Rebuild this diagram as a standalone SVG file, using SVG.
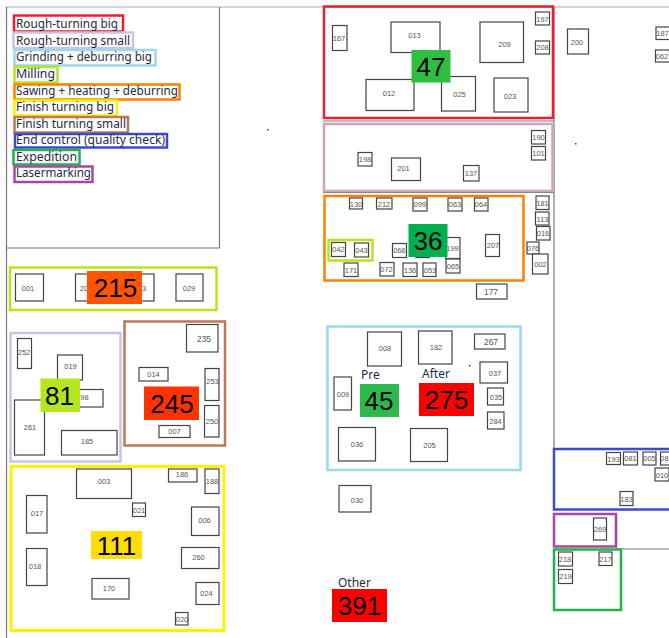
<svg xmlns="http://www.w3.org/2000/svg" width="669" height="638" viewBox="0 0 669 638">
<style>
.bg{fill:#fff}
.ln{stroke:#777;stroke-width:1.2;fill:none}
.lnl{stroke:#aaa;stroke-width:1.2;fill:none}
.z{fill:none;stroke-width:2.5}
.m rect{fill:#fff;stroke:#444;stroke-width:1.2}
.m text{font-family:"Liberation Sans",Arial,sans-serif;font-size:7.5px;fill:#555;text-anchor:middle}
.l{font-family:"Noto Sans","Open Sans",sans-serif;font-size:12px;fill:#1f2a44}
.h{font-family:"Noto Sans","Open Sans",sans-serif;font-size:12px;fill:#1f2a44}
.n{font-family:"Liberation Sans",Arial,sans-serif;font-size:26px;fill:#000;text-anchor:middle}
.red{stroke:#ed1c2e}.lav{stroke:#c8c4e4}.blu{stroke:#99d9ea}.lim{stroke:#b5e61d}.org{stroke:#ff7f00}.yel{stroke:#fff200}.brn{stroke:#b97a57}.ind{stroke:#3f48cc}.grn{stroke:#22b14c}.pur{stroke:#a349a4}.pnk{stroke:#c8a8b8}
</style>
<rect class="bg" width="669" height="638"/>
<g id="connectors">
<path class="lnl" d="M6 7H669"/>
<path class="ln" d="M6.500 7V638"/>
<path class="ln" d="M219.500 7V248H6"/>
<path class="ln" d="M554 7V449"/>
<path class="ln" d="M323 121H554M323 192.500H554"/>
<path class="ln" d="M616 549H669"/>
<rect x="267" y="129" width="1.500" height="1.500" fill="#444"/>
<rect x="575" y="143" width="1.500" height="1.500" fill="#444"/>
<rect x="469" y="365" width="1.500" height="1.500" fill="#444"/>
</g>
<g id="legend">
<rect class="z red" x="14" y="15.500" width="109" height="16"/><text class="l" x="16" y="28" textLength="102" lengthAdjust="spacingAndGlyphs">Rough-turning big</text>
<rect class="z lav" x="13.500" y="32.500" width="119.500" height="15.500"/><text class="l" x="16" y="44.500" textLength="114" lengthAdjust="spacingAndGlyphs">Rough-turning small</text>
<rect class="z blu" x="14.500" y="50" width="141" height="15.500"/><text class="l" x="16" y="61" textLength="136" lengthAdjust="spacingAndGlyphs">Grinding + deburring big</text>
<rect class="z lim" x="14.500" y="67" width="43" height="15.500"/><text class="l" x="16" y="77.500" textLength="39" lengthAdjust="spacingAndGlyphs">Milling</text>
<rect class="z org" x="14.500" y="84.500" width="165" height="15"/><text class="l" x="16" y="94.500" textLength="162" lengthAdjust="spacingAndGlyphs">Sawing + heating + deburring</text>
<rect class="z yel" x="14.500" y="100.500" width="102.500" height="15"/><text class="l" x="16" y="111" textLength="98" lengthAdjust="spacingAndGlyphs">Finish turning big</text>
<rect class="z brn" x="14.500" y="117" width="113.500" height="15.500"/><text class="l" x="16" y="127.500" textLength="110" lengthAdjust="spacingAndGlyphs">Finish turning small</text>
<rect class="z ind" x="15" y="134" width="152" height="13.500"/><text class="l" x="16" y="144" textLength="149" lengthAdjust="spacingAndGlyphs">End control (quality check)</text>
<rect class="z grn" x="13.500" y="150" width="66" height="14.500"/><text class="l" x="16" y="160.500" textLength="61" lengthAdjust="spacingAndGlyphs">Expedition</text>
<rect class="z pur" x="14.500" y="166.500" width="78" height="15.500"/><text class="l" x="16" y="177" textLength="75" lengthAdjust="spacingAndGlyphs">Lasermarking</text>
</g>
<g id="milling" class="m">
<rect style="fill:none;stroke:#b5e61d;stroke-width:2.500" x="10" y="267.500" width="206.500" height="42.500"/>
<g id="m001"><rect x="15.500" y="274" width="28" height="27"/><text x="28" y="291">001</text></g>
<g id="m20"><rect x="75.500" y="274" width="30" height="27"/><text x="84" y="291">20</text></g>
<g id="m3"><rect x="125.500" y="274" width="28.500" height="27"/><text x="144" y="291">3</text></g>
<g id="m029"><rect x="176" y="274" width="27" height="27"/><text x="189" y="291">029</text></g>
</g>
<g id="rough-small" class="m">
<rect style="fill:none;stroke:#c8c4e4;stroke-width:2.500" x="10.500" y="333" width="110" height="128.500"/>
<g id="m252"><rect x="17.500" y="338.500" width="14" height="30"/><text x="24" y="355">252</text></g>
<g id="m019"><rect x="57.500" y="355" width="25" height="25"/><text x="70.500" y="369">019</text></g>
<g id="m98"><rect x="70" y="389.500" width="33" height="17.500"/><text x="84.500" y="400">98</text></g>
<g id="m261"><rect x="14.500" y="400" width="30" height="55"/><text x="30" y="430">261</text></g>
<g id="m185"><rect x="61.500" y="430.500" width="55.500" height="24.500"/><text x="87" y="444">185</text></g>
</g>
<g id="finish-small" class="m">
<rect style="fill:none;stroke:#b97a57;stroke-width:2.500" x="124.500" y="321.500" width="100.500" height="124"/>
<g id="m235"><rect x="186.500" y="324.500" width="31.500" height="27.500"/><text x="204" y="342" style="font-size:8.500px">235</text></g>
<g id="m014"><rect x="139" y="367.500" width="29" height="13.500"/><text x="153.500" y="376.500">014</text></g>
<g id="m253"><rect x="205" y="368.500" width="14" height="32"/><text x="212.500" y="384">253</text></g>
<g id="m250"><rect x="204.500" y="405.500" width="14.500" height="31.500"/><text x="212" y="424">250</text></g>
<g id="m007"><rect x="159" y="425.500" width="31" height="12"/><text x="174.500" y="434">007</text></g>
</g>
<g id="finish-big" class="m">
<rect style="fill:none;stroke:#fff200;stroke-width:3" x="11" y="466.500" width="213" height="164"/>
<g id="m003"><rect x="76.500" y="469" width="55" height="29.500"/><text x="104" y="484">003</text></g>
<g id="m186"><rect x="168.500" y="469" width="28.500" height="13"/><text x="182" y="477">186</text></g>
<g id="m188"><rect x="205" y="469" width="14" height="24.500"/><text x="212" y="484">188</text></g>
<g id="m021"><rect x="132.500" y="503" width="13" height="13.500"/><text x="139" y="512.500">021</text></g>
<g id="m017"><rect x="26.500" y="495.500" width="20.500" height="37.500"/><text x="37" y="516">017</text></g>
<g id="m018"><rect x="26.500" y="548.500" width="20.500" height="37"/><text x="35" y="569">018</text></g>
<g id="m006"><rect x="191.500" y="507" width="27.500" height="28.500"/><text x="204.500" y="523">006</text></g>
<g id="m260"><rect x="181.500" y="547.500" width="37.500" height="21"/><text x="198.500" y="560">260</text></g>
<g id="m170"><rect x="92" y="578.500" width="37" height="20.500"/><text x="109" y="591">170</text></g>
<g id="m024"><rect x="196" y="582.500" width="23" height="22"/><text x="206.500" y="596">024</text></g>
<g id="m020"><rect x="175.500" y="612.500" width="12.500" height="12.500"/><text x="182" y="621.500">020</text></g>
</g>
<g id="rough-big" class="m">
<rect style="fill:none;stroke:#ed1c2e;stroke-width:2.500" x="324" y="6.500" width="229" height="111.500"/>
<g id="m167"><rect x="332.500" y="25.500" width="14.500" height="25"/><text x="339" y="41">167</text></g>
<g id="m013"><rect x="391" y="22" width="49" height="30.500"/><text x="414.500" y="38">013</text></g>
<g id="m209"><rect x="480" y="22" width="43.500" height="40.500"/><text x="504.500" y="47">209</text></g>
<g id="m197"><rect x="535.500" y="12" width="14" height="13"/><text x="542.500" y="22">197</text></g>
<g id="m208"><rect x="535.500" y="41" width="14" height="13"/><text x="542.500" y="50">208</text></g>
<g id="m012"><rect x="366" y="79.500" width="48" height="31"/><text x="389" y="96">012</text></g>
<g id="m025"><rect x="441.500" y="76.500" width="34" height="34.500"/><text x="459.500" y="97">025</text></g>
<g id="m023"><rect x="494" y="78" width="34" height="34"/><text x="510" y="99">023</text></g>
</g>
<g id="zone-pink" class="m">
<rect style="fill:none;stroke:#c8a8b8;stroke-width:2.500" x="324" y="124" width="228.500" height="67"/>
<g id="m190"><rect x="531.500" y="130.500" width="14" height="13.500"/><text x="538.500" y="140">190</text></g>
<g id="m101"><rect x="531.500" y="146.500" width="14" height="13.500"/><text x="538.500" y="156">101</text></g>
<g id="m198"><rect x="358" y="152.500" width="14" height="13.500"/><text x="365" y="162">198</text></g>
<g id="m201"><rect x="391.500" y="158" width="29" height="22.500"/><text x="403.500" y="171">201</text></g>
<g id="m137"><rect x="463.500" y="165.500" width="15.500" height="15.500"/><text x="471" y="176">137</text></g>
</g>
<g id="sawing" class="m">
<rect style="fill:none;stroke:#ff7f00;stroke-width:2.500" x="324.500" y="196" width="199" height="84.500"/>
<g id="m130"><rect x="349.500" y="198" width="13" height="11"/><text x="356" y="207">130</text></g>
<g id="m212"><rect x="376.500" y="198" width="15.500" height="11"/><text x="384" y="206.500">212</text></g>
<g id="m099"><rect x="413" y="198" width="14" height="13"/><text x="420" y="207">099</text></g>
<g id="m063"><rect x="448" y="198" width="14" height="13"/><text x="455" y="207">063</text></g>
<g id="m064"><rect x="474.500" y="198" width="13.500" height="13"/><text x="481" y="206.500">064</text></g>
<g id="m207"><rect x="485.500" y="234.500" width="14" height="22"/><text x="493" y="248">207</text></g>
<g id="m199"><rect x="445.500" y="237.500" width="14.500" height="21"/><text x="452.500" y="250.500">199</text></g>
<g id="m065"><rect x="446" y="259" width="14" height="14"/><text x="453" y="269">065</text></g>
<g id="m066"><rect x="392.500" y="243.500" width="14" height="14"/><text x="399.500" y="253">066</text></g>
<g id="mhidden"><rect x="416" y="243.500" width="13.500" height="14"/></g>
<g id="m171"><rect x="344" y="263" width="14" height="13.500"/><text x="351" y="273">171</text></g>
<g id="m072"><rect x="380" y="262.500" width="14" height="13.500"/><text x="386.500" y="272">072</text></g>
<g id="m136"><rect x="403" y="263" width="14" height="13.500"/><text x="410" y="273">136</text></g>
<g id="m053"><rect x="423" y="263" width="13" height="13.500"/><text x="430" y="273">053</text></g>
<rect style="fill:none;stroke:#b5e61d;stroke-width:2.500" x="328.500" y="240" width="44" height="20.500"/>
<g id="m042"><rect x="331.500" y="242.500" width="14" height="14"/><text x="338.500" y="252">042</text></g>
<g id="m043"><rect x="354.500" y="243" width="14" height="14"/><text x="361.500" y="252.500">043</text></g>
</g>
<g id="singles" class="m">
<g id="m181"><rect x="536" y="196" width="13" height="13.500"/><text x="542.500" y="205.500">181</text></g>
<g id="m113"><rect x="535.500" y="212" width="13.500" height="13"/><text x="542.500" y="221.500">113</text></g>
<g id="m016"><rect x="536.500" y="226.500" width="13.500" height="13.500"/><text x="543" y="236">016</text></g>
<g id="m076"><rect x="527" y="242" width="12" height="12"/><text x="533" y="251">076</text></g>
<g id="m002"><rect x="532.500" y="254" width="15.500" height="20"/><text x="540.500" y="267">002</text></g>
<g id="m177"><rect x="476.500" y="284" width="30.500" height="15"/><text x="491" y="295" style="font-size:8.500px">177</text></g>
<g id="m030"><rect x="339" y="485.500" width="32" height="26.500"/><text x="357" y="503">030</text></g>
<g id="m200"><rect x="567.500" y="29" width="21" height="25"/><text x="577" y="44.500">200</text></g>
<g id="m187"><rect x="656" y="27" width="14" height="12.500"/><text x="662.500" y="35.500">187</text></g>
<g id="m062"><rect x="655.500" y="50" width="14" height="12"/><text x="662" y="59">062</text></g>
</g>
<g id="grinding" class="m">
<rect style="fill:none;stroke:#99d9ea;stroke-width:2.500" x="327.500" y="326.500" width="193" height="143.500"/>
<g id="m008"><rect x="367.500" y="332" width="34" height="34"/><text x="385" y="351">008</text></g>
<g id="m182"><rect x="418.500" y="331" width="33.500" height="33"/><text x="436" y="350">182</text></g>
<g id="m267"><rect x="474.500" y="334" width="30.500" height="15"/><text x="491" y="345" style="font-size:8.500px">267</text></g>
<g id="m037"><rect x="480" y="362" width="27.500" height="21"/><text x="495" y="376">037</text></g>
<g id="m035"><rect x="487.500" y="388" width="16" height="17"/><text x="496" y="400">035</text></g>
<g id="m284"><rect x="487.500" y="412" width="16.500" height="17"/><text x="495.500" y="424">284</text></g>
<g id="m009"><rect x="334" y="377" width="17.500" height="33"/><text x="343" y="397">009</text></g>
<g id="m036"><rect x="338.500" y="427.500" width="37" height="33.500"/><text x="357" y="447">036</text></g>
<g id="m205"><rect x="410.500" y="428.500" width="37" height="33"/><text x="429.500" y="448">205</text></g>
</g>
<text class="h" x="361" y="379">Pre</text>
<text class="h" x="422" y="378">After</text>
<g id="end-control" class="m">
<rect style="fill:none;stroke:#3f48cc;stroke-width:2.500" x="554" y="449" width="117" height="60.500"/>
<g id="m193"><rect x="606.500" y="452.500" width="14" height="12"/><text x="613.500" y="461.500">193</text></g>
<g id="m081"><rect x="623.500" y="452" width="14" height="13"/><text x="630.500" y="460.500">081</text></g>
<g id="m005"><rect x="643" y="452" width="13" height="13"/><text x="649.500" y="461">005</text></g>
<g id="m08"><rect x="660.500" y="452" width="12" height="13"/><text x="664.500" y="461">08</text></g>
<g id="m010"><rect x="655" y="468" width="14" height="13"/><text x="662" y="477.500">010</text></g>
<g id="m183"><rect x="620" y="491.500" width="13" height="14"/><text x="626.500" y="501.500">183</text></g>
</g>
<g id="lasermarking" class="m">
<rect style="fill:none;stroke:#a349a4;stroke-width:2.500" x="554" y="514" width="62" height="32.500"/>
<g id="m269"><rect x="593.500" y="518" width="13" height="22"/><text x="600" y="531.500">269</text></g>
</g>
<g id="expedition" class="m">
<rect style="fill:none;stroke:#22b14c;stroke-width:2.500" x="554" y="549.500" width="67" height="60.500"/>
<g id="m218"><rect x="558.500" y="552" width="14" height="14"/><text x="565" y="561.500">218</text></g>
<g id="m217"><rect x="599" y="552" width="13" height="13.500"/><text x="605.500" y="561.500">217</text></g>
<g id="m219"><rect x="558.500" y="569.500" width="14" height="14"/><text x="565.500" y="579">219</text></g>
</g>
<text class="h" x="338" y="587">Other</text>
<g id="counts">
<g id="c215"><rect x="87" y="271" width="55" height="33" fill="#ff5500"/><text class="n" x="115.500" y="297">215</text></g>
<g id="c81"><rect x="40.500" y="378.500" width="39.500" height="33.500" fill="#b5e61d"/><text class="n" x="59.500" y="405">81</text></g>
<g id="c245"><rect x="144" y="386.500" width="55" height="33.500" fill="#ff3300"/><text class="n" x="172" y="413">245</text></g>
<g id="c111"><rect x="91" y="531" width="51" height="28" fill="#ffdd00"/><text class="n" x="116.500" y="555">111</text></g>
<g id="c47"><rect x="411.500" y="50" width="39" height="32.500" fill="#2fbf40"/><text class="n" x="431" y="76">47</text></g>
<g id="c36"><rect x="408.500" y="224" width="39" height="33" fill="#00b050"/><text class="n" x="428" y="250">36</text></g>
<g id="c45"><rect x="360" y="384" width="39" height="33" fill="#2db84b"/><text class="n" x="379" y="410">45</text></g>
<g id="c275"><rect x="419" y="383" width="55" height="33" fill="#ff0000"/><text class="n" x="446.500" y="409">275</text></g>
<g id="c391"><rect x="332" y="589" width="55" height="33" fill="#ff0000"/><text class="n" x="359.500" y="615">391</text></g>
</g>
</svg>
